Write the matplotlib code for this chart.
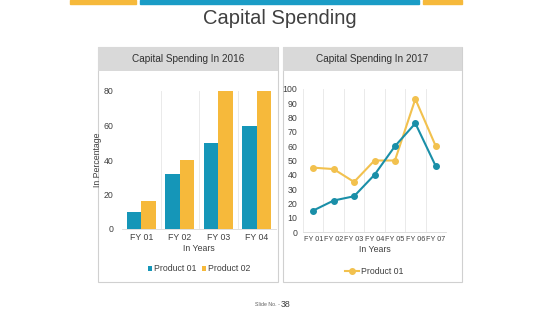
import matplotlib.pyplot as plt
import matplotlib.patches as patches

plt.rcParams['font.family'] = ['Liberation Sans', 'DejaVu Sans']

years_2016 = ['FY 01', 'FY 02', 'FY 03', 'FY 04']
p1_2016 = [10, 32, 50, 60]
p2_2016 = [16, 40, 80, 80]

years_2017 = ['FY 01', 'FY 02', 'FY 03', 'FY 04', 'FY 05', 'FY 06', 'FY 07']
teal_2017 = [15, 22, 25, 40, 60, 76, 46]
gold_2017 = [45, 44, 35, 50, 50, 93, 60]

TEAL = '#1596b8'
GOLD = '#f6b93b'
LINE_TEAL = '#1a8fa8'
LINE_GOLD = '#f2c14e'
W, H = 560, 315

fig = plt.figure(figsize=(5.6, 3.15), dpi=100)
fig.patch.set_facecolor('white')


def fx(x):
    return x / W


def fy(y):
    return 1 - y / H


# top decorative bars
for x0, x1, c in [(70, 136, GOLD), (140, 419, '#1a9cc6'), (423, 462, GOLD)]:
    fig.patches.append(patches.Rectangle((fx(x0), fy(4)), fx(x1 - x0), 4 / H,
                                         transform=fig.transFigure, color=c, zorder=-5))

fig.text(0.5, fy(19), 'Capital Spending', ha='center', va='center',
         fontsize=14.5, color='#404040')
fig.text(fx(280), fy(305), 'Slide No. -', ha='right', va='center',
         fontsize=3.8, color='#606060')
fig.text(fx(280.5), fy(304.5), '38', ha='left', va='center',
         fontsize=6.3, color='#404040')

# panels
for x0, x1, title in [(98, 278, 'Capital Spending In 2016'),
                      (283, 462, 'Capital Spending In 2017')]:
    fig.patches.append(patches.Rectangle((fx(x0), fy(282)), fx(x1 - x0), (282 - 47) / H,
                                         transform=fig.transFigure, facecolor='white',
                                         edgecolor='#d0d0d0', lw=0.8, zorder=-5))
    fig.patches.append(patches.Rectangle((fx(x0), fy(71)), fx(x1 - x0), (71 - 47) / H,
                                         transform=fig.transFigure, facecolor='#d9d9d9',
                                         edgecolor='none', zorder=-4))
    fig.text(fx((x0 + x1) / 2), fy(59), title, ha='center', va='center',
             fontsize=7.2, color='#303030')

# 2016 bar chart
ax1 = fig.add_axes([fx(122), fy(229), fx(276 - 122), (229 - 91) / H])
idx = range(len(years_2016))
bw = 0.38
ax1.bar([i - bw / 2 for i in idx], p1_2016, bw, color=TEAL, label='Product 01', clip_on=False)
ax1.bar([i + bw / 2 for i in idx], p2_2016, bw, color=GOLD, label='Product 02', clip_on=False)
ax1.set_xlim(-0.5, len(years_2016) - 0.5)
ax1.set_ylim(0, 80)
ax1.set_yticks([0, 20, 40, 60, 80])
ax1.set_xticks(list(idx))
ax1.set_xticklabels(years_2016)
for b in [0.5, 1.5, 2.5, 3.5]:
    ax1.axvline(b, color='#e6e6e6', lw=0.6, zorder=0)
ax1.set_ylabel('In Percentage', fontsize=6.3, color='#404040', labelpad=1)
ax1.set_xlabel('In Years', fontsize=6.3, color='#404040', labelpad=1)
ax1.tick_params(axis='y', pad=6)
ax1.legend(loc='upper center', bbox_to_anchor=(0.5, -0.2), ncol=2, frameon=False,
           fontsize=6.3, handlelength=0.5, handleheight=0.5, handletextpad=0.2,
           columnspacing=0.6, labelcolor='#404040')

# 2017 line chart
ax2 = fig.add_axes([fx(303), fy(232), fx(446 - 303), (232 - 89) / H])
xs = range(len(years_2017))
ax2.plot(xs, gold_2017, color=LINE_GOLD, lw=1.5, marker='o', ms=4, label='Product 01',
         clip_on=False)
ax2.plot(xs, teal_2017, color=LINE_TEAL, lw=1.5, marker='o', ms=4, clip_on=False)
ax2.set_xlim(-0.5, len(years_2017) - 0.5)
ax2.set_ylim(0, 100)
ax2.set_yticks(range(0, 101, 10))
ax2.set_xticks(list(xs))
ax2.set_xticklabels(years_2017)
for b in [i + 0.5 for i in xs]:
    ax2.axvline(b, color='#e6e6e6', lw=0.6, zorder=0)
ax2.axvline(-0.5, color='#e6e6e6', lw=0.6, zorder=0)
ax2.set_xlabel('In Years', fontsize=6.3, color='#404040', labelpad=1)
ax2.tick_params(axis='y', pad=4)
ax2.legend(loc='upper center', bbox_to_anchor=(0.5, -0.19), frameon=False,
           fontsize=6.3, handlelength=1.6, handletextpad=0.2, labelcolor='#404040')

for ax in (ax1, ax2):
    for s in ax.spines.values():
        s.set_visible(False)
    ax.spines['bottom'].set_visible(True)
    ax.spines['bottom'].set_color('#d9d9d9')
    ax.spines['bottom'].set_linewidth(0.6)
    ax.tick_params(length=0, labelsize=6.3, labelcolor='#404040')
    ax.tick_params(axis='x', pad=3)
    ax.set_facecolor('none')
ax2.tick_params(axis='x', labelsize=5.2)

fig.savefig('out.png', dpi=100)
